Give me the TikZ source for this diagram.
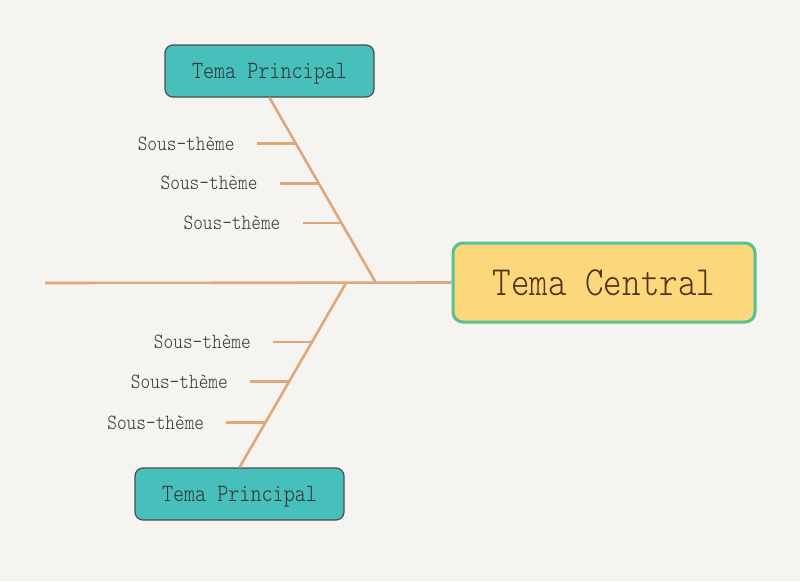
\documentclass[tikz,border=0pt]{standalone}
\usepackage{fontspec}
\newfontfamily\monofont{lmmonolt10-regular.otf}[FakeStretch=0.85]
\definecolor{bgpaper}{HTML}{F5F4F1}
\definecolor{bonecol}{HTML}{E0A87A}
\definecolor{tealbox}{HTML}{47BFBA}
\definecolor{tealline}{HTML}{4D4D4D}
\definecolor{sunbox}{HTML}{FDD77C}
\definecolor{sunline}{HTML}{56C28E}
\definecolor{subtext}{HTML}{333333}
\usetikzlibrary{calc,positioning}

\tikzset{
  bone/.style={draw=bonecol, line width=2.6pt},
  mainbox/.style={draw=tealline, fill=tealbox, line width=1.2pt, rounded corners=8pt,
    minimum width=209pt, minimum height=52pt, text=black!80, text depth=0pt,
    font=\monofont\fontsize{24.8}{28}\selectfont},
  centralbox/.style={draw=sunline, fill=sunbox, line width=3pt, rounded corners=10pt,
    minimum width=302pt, minimum height=79pt, text=brown!40!black,
    font=\monofont\fontsize{41.5}{46}\selectfont},
  sublabel/.style={anchor=east, inner sep=0pt, text=subtext,
    font=\monofont\fontsize{21.7}{24}\selectfont}
}

\begin{document}
\begin{tikzpicture}[x=1pt, y=-1pt]
  \fill[bgpaper] (0,0) rectangle (800,581);
  \useasboundingbox (0,0) rectangle (800,581);

  % central topic and main topics
  \node[centralbox] (central) at (604,282.5) {Tema Central};
  \node[mainbox] (topmain) at (269.5,71) {Tema Principal};
  \node[mainbox] (botmain) at (239.5,494) {Tema Principal};

  % spine
  \coordinate (tail) at (45,283);
  \coordinate (jtop) at (376,283);
  \coordinate (jbot) at (346,283);
  \draw[bone] (tail) -- (central.west);

  % branches
  \draw[bone] (topmain.south) -- (jtop);
  \draw[bone] (jbot) -- (botmain.north);

  % upper sub-topics
  \foreach \f [count=\i] in {0.247,0.462,0.677} {
    \coordinate (tb\i) at ($(topmain.south)!\f!(jtop)$);
    \coordinate (tt\i) at ([xshift=-39pt]tb\i);
    \draw[bone] (tt\i) -- (tb\i);
    \node[sublabel] (ts\i) at ([xshift=-22pt]tt\i) {Sous-thème};
  }

  % lower sub-topics
  \foreach \f [count=\i] in {0.319,0.535,0.757} {
    \coordinate (bb\i) at ($(jbot)!\f!(botmain.north)$);
    \coordinate (bt\i) at ([xshift=-39pt]bb\i);
    \draw[bone] (bt\i) -- (bb\i);
    \node[sublabel] (bs\i) at ([xshift=-22pt]bt\i) {Sous-thème};
  }
\end{tikzpicture}
\end{document}
